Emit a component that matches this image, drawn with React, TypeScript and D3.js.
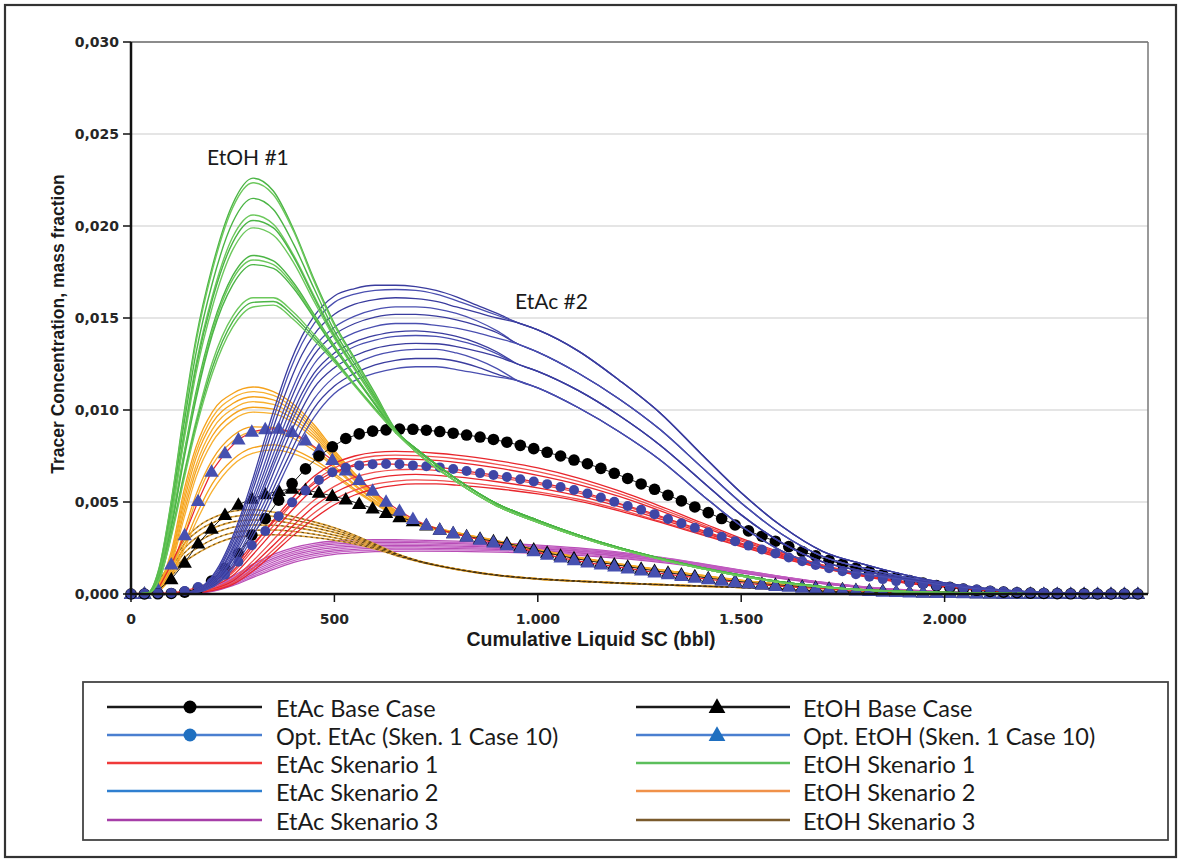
import React from 'react';
import * as d3 from 'd3';

// ---------- axes ----------
const X_TICKS = [0, 500, 1000, 1500, 2000];
const X_TICK_LABELS = ['0', '500', '1.000', '1.500', '2.000'];
const Y_TICKS = [0, 5, 10, 15, 20, 25, 30]; // x 0.001
const Y_TICK_LABELS = ['0,000', '0,005', '0,010', '0,015', '0,020', '0,025', '0,030'];

// ---------- marker series (values in 0.001 mass fraction) ----------
const MARK_X = d3.range(0, 2476, 33);
const ETAC_BASE = [0, 0, 0.01, 0.03, 0.1, 0.3, 0.7, 1.4, 2.2, 3.2, 4.1, 5.1, 6.0, 6.8, 7.5, 8.0, 8.45, 8.7, 8.85, 8.92,
  8.96, 8.95, 8.9, 8.83, 8.74, 8.64, 8.53, 8.4, 8.25, 8.08, 7.9, 7.7, 7.5, 7.28, 7.08, 6.83, 6.56, 6.28, 5.98, 5.69,
  5.37, 5.06, 4.73, 4.42, 4.1, 3.75, 3.43, 3.14, 2.87, 2.58, 2.31, 2.07, 1.83, 1.62, 1.41, 1.23, 1.05, 0.88, 0.73, 0.59,
  0.46, 0.36, 0.27, 0.2, 0.14, 0.1, 0.07, 0.05, 0.03, 0.02, 0.01, 0.01, 0, 0, 0, 0];
const OPT_ETAC = [0.02, 0.03, 0.04, 0.06, 0.16, 0.38, 0.62, 1.05, 1.75, 2.65, 3.42, 4.23, 4.98, 5.62, 6.2, 6.62, 6.86, 6.99, 7.05, 7.07,
  7.05, 6.99, 6.94, 6.88, 6.79, 6.68, 6.57, 6.47, 6.36, 6.24, 6.11, 5.97, 5.82, 5.65, 5.46, 5.24, 5.01, 4.78, 4.58, 4.34,
  4.08, 3.84, 3.6, 3.35, 3.11, 2.87, 2.63, 2.42, 2.2, 1.98, 1.78, 1.58, 1.4, 1.24, 1.08, 0.94, 0.81, 0.7, 0.61, 0.53,
  0.45, 0.38, 0.3, 0.24, 0.18, 0.14, 0.1, 0.07, 0.05, 0.04, 0.03, 0.02, 0.02, 0.01, 0.01, 0.01];
const ETOH_BASE = [0, 0.02, 0.2, 0.8, 1.7, 2.75, 3.55, 4.3, 4.85, 5.18, 5.42, 5.6, 5.72, 5.66, 5.5, 5.33, 5.14, 4.9, 4.65, 4.4,
  4.18, 3.95, 3.73, 3.5, 3.3, 3.14, 3.0, 2.87, 2.75, 2.6, 2.42, 2.24, 2.08, 1.94, 1.81, 1.7, 1.6, 1.49, 1.37, 1.26,
  1.16, 1.06, 0.97, 0.86, 0.78, 0.7, 0.63, 0.56, 0.5, 0.45, 0.4, 0.35, 0.3, 0.26, 0.22, 0.19, 0.16, 0.13, 0.11, 0.09,
  0.07, 0.06, 0.05, 0.04, 0.03, 0.02, 0.02, 0.01, 0.01, 0.01, 0, 0, 0, 0, 0, 0];
const OPT_ETOH = [0, 0.02, 0.25, 1.6, 3.2, 5.05, 6.65, 7.65, 8.4, 8.82, 8.96, 8.98, 8.8, 8.35, 7.82, 7.28, 6.72, 6.2, 5.62, 5.02,
  4.52, 4.08, 3.75, 3.5, 3.3, 3.12, 2.95, 2.8, 2.65, 2.5, 2.32, 2.14, 1.98, 1.84, 1.71, 1.6, 1.5, 1.39, 1.28, 1.17,
  1.07, 0.98, 0.89, 0.8, 0.72, 0.64, 0.57, 0.5, 0.44, 0.39, 0.34, 0.3, 0.26, 0.22, 0.19, 0.16, 0.13, 0.11, 0.09, 0.07,
  0.06, 0.05, 0.04, 0.03, 0.03, 0.02, 0.02, 0.02, 0.01, 0.01, 0.01, 0.01, 0.01, 0.01, 0.01, 0.01];

// ---------- EtOH Skenario 1 (green) ----------
const GREEN_HEAD_X = [0, 40, 70, 100, 130, 160, 200, 250, 300, 350, 400, 450, 500, 550, 600, 650];
const GREEN_HEADS = [
  [0, 0.05, 1.5, 5.2, 9.8, 13.9, 17.8, 21.2, 22.6, 21.9, 19.8, 17.1, 14.7, 12.8, 10.9, 8.95],
  [0, 0.05, 1.45, 5.1, 9.6, 13.7, 17.6, 21.0, 22.35, 21.7, 19.7, 17.0, 14.6, 12.7, 10.8, 8.9],
  [0, 0.04, 1.35, 4.8, 9.2, 13.1, 16.9, 20.2, 21.5, 20.9, 19.0, 16.6, 14.3, 12.5, 10.7, 8.9],
  [0, 0.04, 1.25, 4.5, 8.7, 12.5, 16.2, 19.4, 20.6, 20.1, 18.4, 16.2, 14.1, 12.3, 10.6, 8.85],
  [0, 0.04, 1.2, 4.4, 8.5, 12.3, 16.0, 19.1, 20.3, 19.9, 18.3, 16.1, 14.0, 12.25, 10.55, 8.85],
  [0, 0.04, 1.15, 4.3, 8.3, 12.0, 15.6, 18.7, 19.9, 19.5, 18.0, 15.9, 13.9, 12.2, 10.5, 8.85],
  [0, 0.03, 1.05, 3.9, 7.6, 11.0, 14.5, 17.3, 18.4, 18.1, 16.9, 15.2, 13.5, 11.9, 10.35, 8.8],
  [0, 0.03, 1.0, 3.8, 7.5, 10.8, 14.3, 17.1, 18.15, 17.9, 16.75, 15.1, 13.4, 11.85, 10.3, 8.8],
  [0, 0.03, 0.95, 3.7, 7.3, 10.6, 14.1, 16.8, 17.9, 17.7, 16.6, 15.0, 13.35, 11.8, 10.3, 8.8],
  [0, 0.02, 0.85, 3.4, 6.5, 9.4, 12.6, 15.1, 16.1, 16.1, 15.3, 14.1, 12.8, 11.4, 10.1, 8.8],
  [0, 0.02, 0.8, 3.3, 6.4, 9.2, 12.3, 14.8, 15.85, 15.9, 15.1, 13.95, 12.7, 11.35, 10.05, 8.8],
  [0, 0.02, 0.8, 3.2, 6.2, 9.0, 12.0, 14.5, 15.6, 15.7, 14.9, 13.8, 12.6, 11.3, 10.0, 8.8],
];
const GREEN_TAIL_X = [700, 800, 900, 1000, 1100, 1200, 1300, 1400, 1500, 1600, 1700, 1800, 2000, 2200, 2500];
const GREEN_TAILS = [
  [7.9, 6.25, 4.9, 4.0, 3.2, 2.52, 1.95, 1.45, 1.02, 0.65, 0.4, 0.23, 0.08, 0.02, 0],
  [7.75, 6.1, 4.78, 3.9, 3.12, 2.45, 1.9, 1.4, 0.98, 0.62, 0.38, 0.22, 0.07, 0.02, 0],
];

// ---------- EtAc Skenario 2 (blue) ----------
const BLUE_HEAD_X = [0, 120, 150, 180, 210, 240, 270, 300, 330, 360, 390, 420, 450, 500, 550, 600, 650, 700, 750, 800, 850, 900];
const BLUE_HEADS = [
  [0, 0, 0.15, 0.5, 1.3, 2.6, 4.3, 6.3, 8.5, 10.6, 12.5, 14.0, 15.1, 16.2, 16.6, 16.78, 16.78, 16.7, 16.5, 16.15, 15.7, 15.25],
  [0, 0, 0.13, 0.46, 1.2, 2.45, 4.1, 6.0, 8.1, 10.2, 12.1, 13.6, 14.7, 15.85, 16.3, 16.5, 16.55, 16.5, 16.3, 15.95, 15.55, 15.15],
  [0, 0, 0.12, 0.42, 1.1, 2.3, 3.85, 5.7, 7.7, 9.7, 11.5, 13.0, 14.1, 15.2, 15.75, 16.0, 16.1, 16.05, 15.9, 15.6, 15.3, 15.0],
  [0, 0, 0.11, 0.38, 1.0, 2.1, 3.6, 5.3, 7.2, 9.1, 10.8, 12.3, 13.4, 14.5, 15.1, 15.45, 15.6, 15.6, 15.5, 15.25, 14.85, 14.3],
  [0, 0, 0.1, 0.35, 0.95, 2.0, 3.4, 5.0, 6.8, 8.7, 10.4, 11.9, 13.0, 14.1, 14.7, 15.05, 15.2, 15.2, 15.1, 14.9, 14.6, 14.2],
  [0, 0, 0.09, 0.32, 0.88, 1.85, 3.2, 4.75, 6.45, 8.2, 9.9, 11.35, 12.5, 13.6, 14.2, 14.55, 14.7, 14.7, 14.6, 14.45, 14.2, 13.9],
  [0, 0, 0.08, 0.3, 0.8, 1.7, 3.0, 4.5, 6.1, 7.8, 9.45, 10.9, 12.0, 13.1, 13.7, 14.05, 14.25, 14.3, 14.2, 14.0, 13.65, 13.15],
  [0, 0, 0.08, 0.28, 0.75, 1.6, 2.85, 4.3, 5.85, 7.5, 9.1, 10.55, 11.7, 12.8, 13.45, 13.8, 14.0, 14.05, 14.0, 13.8, 13.5, 13.05],
  [0, 0, 0.07, 0.25, 0.7, 1.5, 2.65, 4.0, 5.5, 7.1, 8.65, 10.05, 11.2, 12.3, 12.95, 13.35, 13.55, 13.62, 13.6, 13.45, 13.2, 12.9],
  [0, 0, 0.06, 0.22, 0.62, 1.35, 2.4, 3.7, 5.1, 6.6, 8.1, 9.5, 10.6, 11.8, 12.5, 12.95, 13.2, 13.3, 13.3, 13.1, 12.75, 12.25],
  [0, 0, 0.05, 0.2, 0.56, 1.22, 2.2, 3.4, 4.75, 6.2, 7.6, 8.95, 10.1, 11.3, 12.0, 12.45, 12.7, 12.8, 12.8, 12.65, 12.35, 11.95],
  [0, 0, 0.05, 0.18, 0.5, 1.1, 2.0, 3.15, 4.4, 5.8, 7.2, 8.5, 9.6, 10.9, 11.6, 12.0, 12.25, 12.35, 12.35, 12.2, 12.0, 11.8],
];
const BLUE_TAIL_X = [950, 1000, 1100, 1200, 1300, 1400, 1500, 1600, 1700, 1800, 1900, 2000, 2100, 2200, 2350, 2500];
const BLUE_TAILS = [
  [14.75, 14.35, 13.2, 11.62, 9.85, 7.65, 5.5, 3.68, 2.32, 1.62, 1.05, 0.6, 0.3, 0.13, 0.04, 0.01],
  [13.6, 13.15, 12.0, 10.6, 8.95, 6.95, 4.95, 3.25, 2.05, 1.42, 0.93, 0.55, 0.28, 0.12, 0.04, 0.01],
  [12.5, 12.1, 11.05, 9.7, 8.1, 6.2, 4.3, 2.78, 1.75, 1.25, 0.85, 0.5, 0.26, 0.11, 0.03, 0.01],
  [11.6, 11.2, 10.12, 8.82, 7.3, 5.45, 3.7, 2.33, 1.48, 1.1, 0.78, 0.48, 0.25, 0.11, 0.03, 0.01],
];

// ---------- EtAc Skenario 1 (red) ----------
const RED_X = [0, 100, 150, 200, 250, 300, 350, 400, 450, 500, 550, 600, 650, 700, 750, 800, 900, 1000, 1100, 1200, 1300, 1400, 1500, 1600, 1700, 1800, 1900, 2000, 2100, 2200, 2350, 2500];
const RED_SERIES = [
  [0, 0.02, 0.15, 0.5, 1.25, 2.6, 4.0, 5.3, 6.4, 7.1, 7.5, 7.7, 7.75, 7.72, 7.65, 7.55, 7.25, 6.85, 6.3, 5.6, 4.78, 3.9, 3.02, 2.25, 1.58, 1.07, 0.68, 0.42, 0.21, 0.09, 0.03, 0.01],
  [0, 0.02, 0.13, 0.45, 1.15, 2.4, 3.7, 5.0, 6.1, 6.85, 7.3, 7.5, 7.55, 7.52, 7.45, 7.35, 7.05, 6.65, 6.12, 5.45, 4.65, 3.8, 2.95, 2.2, 1.55, 1.05, 0.67, 0.41, 0.2, 0.08, 0.03, 0.01],
  [0, 0.01, 0.11, 0.4, 1.0, 2.15, 3.4, 4.65, 5.75, 6.55, 7.05, 7.28, 7.35, 7.32, 7.26, 7.15, 6.85, 6.45, 5.95, 5.3, 4.53, 3.7, 2.88, 2.15, 1.52, 1.03, 0.66, 0.41, 0.2, 0.08, 0.03, 0.01],
  [0, 0.01, 0.08, 0.3, 0.8, 1.8, 2.95, 4.1, 5.1, 5.85, 6.35, 6.62, 6.75, 6.78, 6.72, 6.62, 6.33, 5.97, 5.5, 4.88, 4.18, 3.45, 2.72, 2.05, 1.46, 1.0, 0.64, 0.4, 0.2, 0.08, 0.02, 0.01],
  [0, 0.01, 0.07, 0.25, 0.7, 1.6, 2.65, 3.75, 4.75, 5.5, 6.0, 6.3, 6.45, 6.5, 6.45, 6.36, 6.1, 5.77, 5.33, 4.75, 4.08, 3.38, 2.68, 2.02, 1.44, 0.99, 0.63, 0.39, 0.19, 0.08, 0.02, 0.01],
  [0, 0.01, 0.06, 0.22, 0.6, 1.4, 2.4, 3.45, 4.4, 5.15, 5.65, 5.97, 6.13, 6.2, 6.17, 6.09, 5.86, 5.55, 5.15, 4.6, 3.96, 3.3, 2.62, 1.98, 1.42, 0.98, 0.62, 0.39, 0.19, 0.08, 0.02, 0.01],
  [0, 0, 0.05, 0.18, 0.52, 1.25, 2.2, 3.2, 4.1, 4.85, 5.38, 5.72, 5.9, 5.98, 5.98, 5.92, 5.72, 5.44, 5.05, 4.52, 3.9, 3.24, 2.58, 1.95, 1.4, 0.96, 0.61, 0.38, 0.19, 0.08, 0.02, 0.01],
];

// ---------- EtAc Skenario 3 (magenta) ----------
const PINK_X = [0, 100, 150, 200, 250, 300, 350, 400, 450, 500, 550, 600, 650, 700, 800, 900, 1000, 1100, 1200, 1300, 1400, 1500, 1600, 1700, 1800, 1900, 2000, 2100, 2250, 2500];
const PINK_SERIES = [
  [0, 0.01, 0.05, 0.35, 0.95, 1.62, 2.15, 2.52, 2.75, 2.88, 2.94, 2.96, 2.95, 2.93, 2.87, 2.78, 2.66, 2.5, 2.28, 2.0, 1.66, 1.3, 0.95, 0.64, 0.4, 0.23, 0.12, 0.06, 0.02, 0],
  [0, 0.01, 0.05, 0.32, 0.88, 1.52, 2.04, 2.42, 2.66, 2.8, 2.86, 2.88, 2.88, 2.86, 2.8, 2.72, 2.6, 2.45, 2.24, 1.97, 1.64, 1.28, 0.94, 0.63, 0.39, 0.22, 0.12, 0.06, 0.02, 0],
  [0, 0.01, 0.04, 0.29, 0.82, 1.43, 1.94, 2.32, 2.57, 2.71, 2.78, 2.8, 2.8, 2.79, 2.74, 2.66, 2.55, 2.4, 2.2, 1.94, 1.62, 1.27, 0.93, 0.62, 0.38, 0.22, 0.11, 0.05, 0.02, 0],
  [0, 0.01, 0.04, 0.26, 0.75, 1.34, 1.84, 2.22, 2.47, 2.62, 2.69, 2.72, 2.72, 2.71, 2.67, 2.6, 2.5, 2.36, 2.16, 1.91, 1.6, 1.25, 0.92, 0.61, 0.38, 0.21, 0.11, 0.05, 0.02, 0],
  [0, 0.01, 0.03, 0.23, 0.68, 1.25, 1.74, 2.12, 2.37, 2.52, 2.6, 2.64, 2.65, 2.64, 2.6, 2.54, 2.45, 2.32, 2.13, 1.88, 1.57, 1.23, 0.9, 0.6, 0.37, 0.21, 0.11, 0.05, 0.02, 0],
  [0, 0, 0.03, 0.2, 0.62, 1.16, 1.64, 2.02, 2.27, 2.43, 2.52, 2.56, 2.57, 2.57, 2.54, 2.48, 2.4, 2.27, 2.09, 1.85, 1.55, 1.21, 0.89, 0.59, 0.36, 0.2, 0.1, 0.05, 0.02, 0],
  [0, 0, 0.03, 0.18, 0.56, 1.07, 1.54, 1.92, 2.18, 2.34, 2.43, 2.48, 2.49, 2.49, 2.47, 2.42, 2.34, 2.22, 2.05, 1.81, 1.52, 1.19, 0.87, 0.58, 0.35, 0.2, 0.1, 0.05, 0.02, 0],
  [0, 0, 0.02, 0.16, 0.5, 0.98, 1.44, 1.82, 2.08, 2.25, 2.34, 2.39, 2.41, 2.42, 2.4, 2.36, 2.28, 2.17, 2.0, 1.77, 1.49, 1.17, 0.85, 0.57, 0.35, 0.19, 0.1, 0.05, 0.02, 0],
  [0, 0, 0.02, 0.14, 0.45, 0.9, 1.34, 1.72, 1.98, 2.15, 2.24, 2.3, 2.32, 2.33, 2.32, 2.28, 2.21, 2.1, 1.94, 1.72, 1.45, 1.14, 0.83, 0.56, 0.34, 0.19, 0.1, 0.05, 0.02, 0],
];

// ---------- EtOH Skenario 2 (orange) ----------
const ORANGE_X = [0, 40, 70, 100, 130, 160, 200, 250, 300, 350, 400, 450, 500, 550, 600, 650, 700, 800, 900, 1000, 1100, 1200, 1300, 1400, 1500, 1600, 1800, 2000, 2200, 2500];
const ORANGE_SERIES = [
  [0, 0.05, 0.6, 2.4, 5.6, 8.0, 9.9, 10.9, 11.25, 11.0, 10.3, 9.2, 7.8, 6.55, 5.45, 4.55, 3.95, 3.35, 2.9, 2.42, 2.0, 1.64, 1.33, 1.03, 0.75, 0.53, 0.23, 0.08, 0.02, 0],
  [0, 0.05, 0.55, 2.25, 5.3, 7.7, 9.6, 10.65, 11.0, 10.8, 10.1, 9.05, 7.7, 6.45, 5.4, 4.5, 3.92, 3.33, 2.88, 2.4, 1.99, 1.63, 1.32, 1.02, 0.74, 0.52, 0.23, 0.08, 0.02, 0],
  [0, 0.04, 0.5, 2.1, 5.0, 7.4, 9.3, 10.35, 10.72, 10.55, 9.9, 8.9, 7.6, 6.38, 5.35, 4.47, 3.9, 3.32, 2.87, 2.39, 1.98, 1.62, 1.31, 1.01, 0.74, 0.52, 0.23, 0.08, 0.02, 0],
  [0, 0.04, 0.45, 1.95, 4.7, 7.0, 8.95, 10.05, 10.45, 10.3, 9.7, 8.75, 7.5, 6.3, 5.3, 4.43, 3.88, 3.31, 2.86, 2.38, 1.97, 1.61, 1.31, 1.01, 0.73, 0.51, 0.22, 0.08, 0.02, 0],
  [0, 0.04, 0.4, 1.8, 4.4, 6.7, 8.6, 9.75, 10.15, 10.05, 9.5, 8.6, 7.4, 6.22, 5.24, 4.4, 3.86, 3.3, 2.85, 2.37, 1.96, 1.6, 1.3, 1.0, 0.73, 0.51, 0.22, 0.08, 0.02, 0],
  [0, 0.03, 0.36, 1.65, 4.1, 6.35, 8.25, 9.45, 9.88, 9.8, 9.3, 8.45, 7.3, 6.15, 5.2, 4.37, 3.85, 3.29, 2.84, 2.36, 1.95, 1.6, 1.3, 1.0, 0.73, 0.51, 0.22, 0.08, 0.02, 0],
  [0, 0.03, 0.3, 1.4, 3.4, 5.4, 7.3, 8.6, 9.08, 9.05, 8.65, 7.95, 6.95, 5.95, 5.08, 4.32, 3.82, 3.28, 2.83, 2.35, 1.94, 1.59, 1.29, 0.99, 0.72, 0.5, 0.22, 0.08, 0.02, 0],
  [0, 0.03, 0.28, 1.3, 3.1, 5.1, 7.0, 8.3, 8.8, 8.8, 8.45, 7.8, 6.85, 5.88, 5.04, 4.3, 3.81, 3.27, 2.82, 2.35, 1.94, 1.59, 1.29, 0.99, 0.72, 0.5, 0.22, 0.08, 0.02, 0],
  [0, 0.02, 0.22, 1.1, 2.65, 4.25, 6.0, 7.3, 7.95, 8.1, 7.85, 7.3, 6.55, 5.7, 4.95, 4.25, 3.79, 3.26, 2.81, 2.34, 1.93, 1.58, 1.28, 0.99, 0.72, 0.5, 0.22, 0.08, 0.02, 0],
  [0, 0.02, 0.2, 1.0, 2.4, 3.9, 5.6, 7.0, 7.65, 7.83, 7.62, 7.12, 6.42, 5.62, 4.9, 4.22, 3.78, 3.26, 2.81, 2.34, 1.93, 1.58, 1.28, 0.99, 0.72, 0.5, 0.22, 0.08, 0.02, 0],
];

// ---------- EtOH Skenario 3 (brown) ----------
const BROWN_X = [0, 40, 70, 100, 130, 170, 210, 250, 300, 350, 400, 450, 500, 550, 600, 650, 700, 800, 900, 1000, 1100, 1200, 1300, 1400, 1500, 1600, 1700, 1800, 2000, 2500];
const BROWN_SERIES = [
  [0, 0.05, 0.8, 1.75, 2.9, 3.75, 4.22, 4.5, 4.58, 4.45, 4.2, 3.92, 3.6, 3.2, 2.72, 2.22, 1.85, 1.36, 1.03, 0.83, 0.7, 0.6, 0.51, 0.43, 0.35, 0.25, 0.15, 0.09, 0.03, 0],
  [0, 0.04, 0.7, 1.6, 2.7, 3.5, 3.95, 4.2, 4.3, 4.22, 4.02, 3.77, 3.48, 3.12, 2.68, 2.2, 1.84, 1.36, 1.03, 0.83, 0.7, 0.6, 0.51, 0.43, 0.35, 0.25, 0.15, 0.09, 0.03, 0],
  [0, 0.04, 0.6, 1.45, 2.45, 3.2, 3.65, 3.92, 4.02, 3.98, 3.82, 3.6, 3.35, 3.03, 2.63, 2.18, 1.83, 1.35, 1.02, 0.82, 0.7, 0.6, 0.51, 0.43, 0.35, 0.25, 0.15, 0.09, 0.03, 0],
  [0, 0.03, 0.5, 1.3, 2.2, 2.9, 3.35, 3.63, 3.75, 3.74, 3.62, 3.44, 3.2, 2.93, 2.57, 2.16, 1.82, 1.35, 1.02, 0.82, 0.69, 0.59, 0.51, 0.43, 0.35, 0.25, 0.15, 0.09, 0.03, 0],
  [0, 0.03, 0.45, 1.15, 1.95, 2.6, 3.05, 3.33, 3.46, 3.48, 3.4, 3.25, 3.06, 2.82, 2.5, 2.13, 1.81, 1.34, 1.02, 0.82, 0.69, 0.59, 0.51, 0.43, 0.35, 0.25, 0.15, 0.09, 0.03, 0],
  [0, 0.02, 0.38, 1.0, 1.7, 2.3, 2.75, 3.05, 3.18, 3.22, 3.18, 3.07, 2.92, 2.72, 2.45, 2.1, 1.8, 1.34, 1.01, 0.81, 0.69, 0.59, 0.5, 0.43, 0.35, 0.25, 0.15, 0.09, 0.03, 0],
];

// ---------- legend ----------
const LEGEND_LEFT = [
  { label: 'EtAc Base Case', color: '#1a1a1a', marker: 'circle', markerColor: '#000000' },
  { label: 'Opt. EtAc (Sken. 1 Case 10)', color: '#4a7fd0', marker: 'circle', markerColor: '#1f6fc0' },
  { label: 'EtAc Skenario 1', color: '#f03a3a', marker: null, markerColor: '' },
  { label: 'EtAc Skenario 2', color: '#2f7fd0', marker: null, markerColor: '' },
  { label: 'EtAc Skenario 3', color: '#a63ea8', marker: null, markerColor: '' },
];
const LEGEND_RIGHT = [
  { label: 'EtOH Base Case', color: '#1a1a1a', marker: 'triangle', markerColor: '#000000' },
  { label: 'Opt. EtOH (Sken. 1 Case 10)', color: '#4a7fd0', marker: 'triangle', markerColor: '#1f6fc0' },
  { label: 'EtOH Skenario 1', color: '#5cbf5c', marker: null, markerColor: '' },
  { label: 'EtOH Skenario 2', color: '#f0914a', marker: null, markerColor: '' },
  { label: 'EtOH Skenario 3', color: '#7a5a2c', marker: null, markerColor: '' },
];

type Pt = [number, number];
const zip = (xs: number[], ys: number[]): Pt[] => {
  const n = Math.min(xs.length, ys.length);
  const out: Pt[] = [];
  for (let i = 0; i < n; i++) out.push([xs[i], ys[i]]);
  return out;
};

const PLOT = { left: 131, right: 1148, top: 42, bottom: 594 };

export default function App() {
  const x = d3.scaleLinear().domain([0, 2500]).range([PLOT.left, PLOT.right]);
  const y = d3.scaleLinear().domain([0, 30]).range([PLOT.bottom, PLOT.top]);
  const line = d3.line<Pt>().x(d => x(d[0])).y(d => y(d[1])).curve(d3.curveMonotoneX);
  const straight = d3.line<Pt>().x(d => x(d[0])).y(d => y(d[1]));

  const greenCurves = GREEN_HEADS.map((h, i) => zip(GREEN_HEAD_X, h).concat(zip(GREEN_TAIL_X, GREEN_TAILS[i % 2])));
  const blueCurves = BLUE_HEADS.map((h, i) => zip(BLUE_HEAD_X, h).concat(zip(BLUE_TAIL_X, BLUE_TAILS[Math.floor(i / 3)])));
  const redCurves = RED_SERIES.map(s => zip(RED_X, s));
  const pinkCurves = PINK_SERIES.map(s => zip(PINK_X, s));
  const orangeCurves = ORANGE_SERIES.map(s => zip(ORANGE_X, s));
  const brownCurves = BROWN_SERIES.map(s => zip(BROWN_X, s));

  const etacBase = zip(MARK_X, ETAC_BASE);
  const optEtac = zip(MARK_X, OPT_ETAC);
  const etohBase = zip(MARK_X, ETOH_BASE);
  const optEtoh = zip(MARK_X, OPT_ETOH);

  const tri = (cx: number, cy: number, s: number) =>
    `M${cx},${cy - s * 0.62}L${cx + s * 0.6},${cy + s * 0.42}L${cx - s * 0.6},${cy + s * 0.42}Z`;

  const legendFont = 'Lato, "Open Sans", sans-serif';
  const tickFont = '"DejaVu Sans", Verdana, sans-serif';
  const titleFont = '"Liberation Sans", Arial, sans-serif';
  const rowsY = [707, 735, 763, 791, 820];

  const renderLegendItem = (it: any, i: number, lx1: number, lx2: number, mx: number, tx: number) => {
    const yy = rowsY[i];
    return (
      <g key={it.label}>
        <line x1={lx1} x2={lx2} y1={yy} y2={yy} stroke={it.color} strokeWidth={2.6} />
        {it.marker === 'circle' && <circle cx={mx} cy={yy} r={6.5} fill={it.markerColor} />}
        {it.marker === 'triangle' && <path d={tri(mx, yy, 14)} fill={it.markerColor} />}
        <text x={tx} y={yy + 1} dominantBaseline="central" fontFamily={legendFont} fontSize={23.5} fill="#1a1a1a">{it.label}</text>
      </g>
    );
  };

  return (
    <svg width={1180} height={859} style={{ position: 'absolute', left: 0, top: 0, background: '#fff' }}>
      <rect x={0} y={0} width={1180} height={859} fill="#fff" />
      <rect x={5} y={5} width={1171} height={852} fill="none" stroke="#333" strokeWidth={2.2} />

      {/* grid */}
      {Y_TICKS.filter(t => t > 0 && t < 30).map(t => (
        <line key={'g' + t} x1={PLOT.left} x2={PLOT.right} y1={y(t)} y2={y(t)} stroke="#dcdcdc" strokeWidth={1.5} />
      ))}
      {/* frame */}
      <line x1={PLOT.left} x2={PLOT.right} y1={PLOT.top} y2={PLOT.top} stroke="#666" strokeWidth={1.5} />
      <line x1={PLOT.right} x2={PLOT.right} y1={PLOT.top} y2={PLOT.bottom} stroke="#777" strokeWidth={1.5} />

      {/* curve families */}
      <g fill="none" strokeWidth={1.3}>
        {pinkCurves.map((c, i) => <path key={'p' + i} d={line(c) || ''} stroke={i % 2 ? '#c86ac8' : '#b84db6'} />)}
        {brownCurves.map((c, i) => <path key={'b' + i} d={line(c) || ''} stroke="#e2a63c" strokeWidth={1.6} />)}
        {brownCurves.map((c, i) => <path key={'bd' + i} d={line(c) || ''} stroke="#3e2c10" strokeWidth={0.8} strokeDasharray="2.5,3" />)}
        {orangeCurves.map((c, i) => <path key={'o' + i} d={line(c) || ''} stroke={i % 2 ? '#f8b030' : '#f5a21c'} />)}
        {redCurves.map((c, i) => <path key={'r' + i} d={line(c) || ''} stroke={i % 2 ? '#f05050' : '#e8262d'} />)}
      </g>

      {/* marker series */}
      <path d={straight(etohBase) || ''} fill="none" stroke="#222" strokeWidth={1} />
      {etohBase.map((p, i) => <path key={'et' + i} d={tri(x(p[0]), y(p[1]), 12)} fill="#000" />)}
      <path d={straight(optEtoh) || ''} fill="none" stroke="#e8262d" strokeWidth={1.2} />
      {optEtoh.map((p, i) => <path key={'ot' + i} d={tri(x(p[0]), y(p[1]), 12)} fill="#4650b0" />)}
      <path d={straight(etacBase) || ''} fill="none" stroke="#222" strokeWidth={1} />
      {etacBase.map((p, i) => <circle key={'ed' + i} cx={x(p[0])} cy={y(p[1])} r={5.8} fill="#000" />)}
      <path d={straight(optEtac) || ''} fill="none" stroke="#e8262d" strokeWidth={1.2} />
      {optEtac.map((p, i) => <circle key={'od' + i} cx={x(p[0])} cy={y(p[1])} r={5} fill="#3f46a6" />)}

      <g fill="none" strokeWidth={1.3}>
        {blueCurves.map((c, i) => <path key={'bl' + i} d={line(c) || ''} stroke={i % 2 ? '#4a4fb0' : '#3a3c9e'} />)}
        {greenCurves.map((c, i) => <path key={'gr' + i} d={line(c) || ''} stroke={i % 2 ? '#6cc85c' : '#4bb545'} strokeWidth={1.4} />)}
      </g>

      {/* axes */}
      <line x1={PLOT.left} x2={PLOT.left} y1={PLOT.top} y2={PLOT.bottom + 1} stroke="#111" strokeWidth={2.5} />
      <line x1={PLOT.left} x2={PLOT.right} y1={PLOT.bottom} y2={PLOT.bottom} stroke="#111" strokeWidth={2.5} />
      {Y_TICKS.map((t, i) => (
        <g key={'yt' + t}>
          <line x1={PLOT.left - 8} x2={PLOT.left} y1={y(t)} y2={y(t)} stroke="#111" strokeWidth={1.5} />
          <text x={PLOT.left - 12} y={y(t)} dominantBaseline="central" textAnchor="end" fontFamily={tickFont} fontWeight="bold" fontSize={14} fill="#262626">{Y_TICK_LABELS[i]}</text>
        </g>
      ))}
      {X_TICKS.map((t, i) => (
        <g key={'xt' + t}>
          <line x1={x(t)} x2={x(t)} y1={PLOT.bottom} y2={PLOT.bottom + 8} stroke="#111" strokeWidth={1.5} />
          <text x={x(t)} y={619} dominantBaseline="central" textAnchor="middle" fontFamily={tickFont} fontWeight="bold" fontSize={14} fill="#262626">{X_TICK_LABELS[i]}</text>
        </g>
      ))}
      <text x={591} y={646} textAnchor="middle" fontFamily={titleFont} fontWeight="bold" fontSize={19.5} fill="#1a1a1a">Cumulative Liquid SC (bbl)</text>
      <text transform={`translate(64,324) rotate(-90)`} textAnchor="middle" fontFamily={titleFont} fontWeight="bold" fontSize={17.5} fill="#1a1a1a">Tracer Concentration, mass fraction</text>

      {/* annotations */}
      <text x={207} y={156} dominantBaseline="central" fontFamily={legendFont} fontSize={21} fill="#1a1a1a">EtOH #1</text>
      <text x={515} y={300} dominantBaseline="central" fontFamily={legendFont} fontSize={21} fill="#1a1a1a">EtAc #2</text>

      {/* legend */}
      <rect x={83} y={682} width={1085} height={158} fill="#fff" stroke="#444" strokeWidth={1.8} />
      {LEGEND_LEFT.map((it, i) => renderLegendItem(it, i, 107, 262, 190, 276))}
      {LEGEND_RIGHT.map((it, i) => renderLegendItem(it, i, 636, 790, 717, 803))}
    </svg>
  );
}
